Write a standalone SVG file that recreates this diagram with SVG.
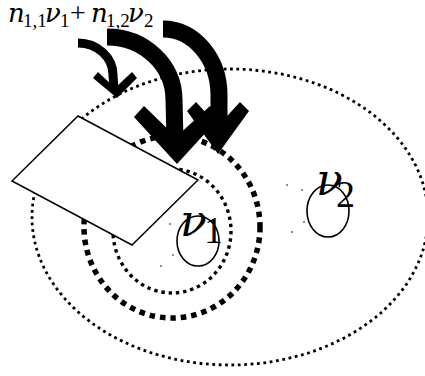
<svg xmlns="http://www.w3.org/2000/svg" width="425" height="376" viewBox="0 0 425 376">
<style>
.big{fill:none;stroke:#000;stroke-width:2.8;stroke-dasharray:2.8 3.6}
.mid{fill:none;stroke:#000;stroke-width:5.5;stroke-dasharray:5.5 5}
.inn{fill:none;stroke:#000;stroke-width:3.4;stroke-dasharray:3.4 3.9}
.shaft{fill:none;stroke:#000}
.head{fill:#000}
.lbl{font-family:"DejaVu Serif","Liberation Serif",serif;fill:#000}
.num{font-family:"Liberation Serif","Times New Roman",serif;fill:#000}
.it{font-style:italic}
.oval{fill:none;stroke:#000;stroke-width:1.6}
</style>
<rect width="425" height="376" fill="#fff"/>
<g id="regions">
<ellipse class="big" cx="230" cy="217" rx="198" ry="148"/>
<ellipse class="mid" cx="172" cy="227" rx="88" ry="91"/>
<ellipse class="inn" cx="172" cy="231" rx="59" ry="62"/>
</g>
<g id="plate">
<polygon points="78,116 198,180 132,245 12,181" fill="#fff" stroke="#000" stroke-width="1.5"/>
</g>
<g id="connectors">
<path class="shaft" stroke-width="9" d="M78 43 C97 43 113 57 113 75 L114 90"/>
<polygon class="head" points="93,78 98,72 115,88 132,72 137,78 117,98"/>
<path class="shaft" stroke-width="17" d="M107 37 C144 37 174 65 174 100 L175 140"/>
<polygon class="head" points="134,117 144,106 176,137 210,106 220,117 177,164"/>
<path class="shaft" stroke-width="17" d="M163 29 C194 29 219 59 219 95 L219 130"/>
<polygon class="head" points="187,111 196,102 218,126 240,102 249,111 218,154"/>
</g>
<g id="nu1">
<ellipse class="oval" cx="198" cy="241" rx="21" ry="25"/>
<text class="lbl it" x="180" y="236" font-size="44">ν</text>
<text class="num" x="204" y="243" font-size="38">1</text>
</g>
<g id="nu2">
<ellipse class="oval" cx="328" cy="211" rx="21" ry="26"/>
<text class="lbl it" x="316" y="195" font-size="44">ν</text>
<text class="num" x="336" y="207" font-size="38">2</text>
</g>
<g id="specks" fill="#000">
<circle cx="287" cy="185" r="0.8"/><circle cx="302" cy="190" r="0.8"/><circle cx="304" cy="222" r="0.8"/><circle cx="292" cy="232" r="0.8"/>
<circle cx="170" cy="224" r="0.8"/><circle cx="173" cy="255" r="0.8"/><circle cx="161" cy="266" r="0.8"/>
</g>
<g id="label">
<text class="num" y="22" font-size="28"><tspan class="lbl it" x="8" font-size="26">n</tspan><tspan x="23" y="27" font-size="19">1,1</tspan><tspan class="lbl it" x="45" y="22" font-size="26">ν</tspan><tspan x="60" y="27" font-size="19">1</tspan><tspan x="70" y="22">+</tspan><tspan class="lbl it" x="91" y="22" font-size="26">n</tspan><tspan x="106" y="27" font-size="19">1,2</tspan><tspan class="lbl it" x="128" y="22" font-size="26">ν</tspan><tspan x="144" y="27" font-size="19">2</tspan></text>
</g>
</svg>
